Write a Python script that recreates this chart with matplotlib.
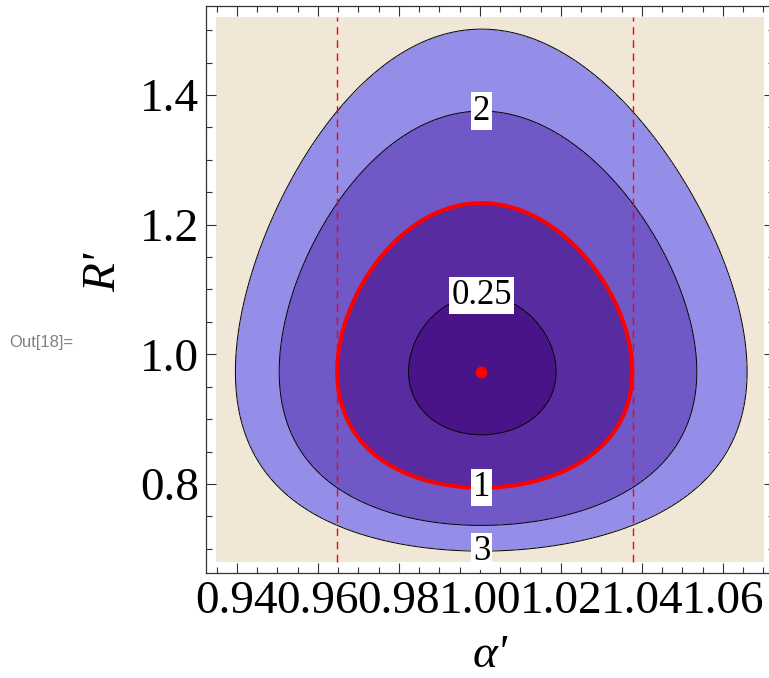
import numpy as np
import matplotlib
matplotlib.use("Agg")
import matplotlib.pyplot as plt
from matplotlib.ticker import FixedLocator, MultipleLocator

plt.rcParams['font.family'] = ['Liberation Serif', 'DejaVu Serif']

# best fit point and shape of the delta-chi^2 surface
best_alpha = 1.0004
best_r = 0.9732
sig_alpha = 0.03642        # half width of the 1-sigma contour in alpha'
skew_alpha = 0.022         # left/right asymmetry in alpha'
sig_r = [0.21313, 0.18611, -0.02294]   # sigma_R(d) = c0 + c1*d + c2*d^2

levels = [0.25, 1, 2, 3]
level_text = {0.25: '0.25', 1: '1', 2: '2', 3: '3'}
alpha_bounds = [0.9648, 1.0378]   # dashed 1-sigma lines

alpha_range = (0.935, 1.07)
r_range = (0.68, 1.52)
xticks = [0.94, 0.96, 0.98, 1.00, 1.02, 1.04, 1.06]
xtick_labels = ['0.94', '0.96', '0.98', '1.00', '1.02', '1.04', '1.06']
yticks = [0.8, 1.0, 1.2, 1.4]
ytick_labels = ['0.8', '1.0', '1.2', '1.4']

band_colors = ['#481487', '#582ca0', '#7058c6', '#948ee8', '#f0e7d6']


def delta_chi2(a, r):
    dx = a - best_alpha
    u = dx / (sig_alpha + skew_alpha * dx)
    d = r - best_r
    sy = sig_r[0] + sig_r[1] * d + sig_r[2] * d ** 2
    t = d / sy
    return u ** 2 + t ** 2


a = np.linspace(alpha_range[0], alpha_range[1], 500)
r = np.linspace(r_range[0], r_range[1], 500)
A, R = np.meshgrid(a, r)
Z = delta_chi2(A, R)

fig = plt.figure(figsize=(7.69, 6.78), dpi=100)
W, H = 769.0, 678.0
ax = fig.add_axes([205.7 / W, 1 - 572.6 / H, (774.3 - 205.7) / W, (572.6 - 6.3) / H])

pad_x = 0.02 * (alpha_range[1] - alpha_range[0])
pad_y = 0.02 * (r_range[1] - r_range[0])
ax.set_xlim(alpha_range[0] - pad_x, alpha_range[1] + pad_x)
ax.set_ylim(r_range[0] - pad_y, r_range[1] + pad_y)

ax.contourf(A, R, Z, levels=[0] + levels + [Z.max() + 1], colors=band_colors)
cs = ax.contour(A, R, Z, levels=[0.25, 2, 3], colors='black', linewidths=0.7)
ax.contour(A, R, Z, levels=[1], colors='red', linewidths=2.9)

# contour labels on white boxes, like Mathematica
cs_red = ax.contour(A, R, Z, levels=[1], colors='none')
lab = ax.clabel(cs, fmt=level_text, fontsize=25, inline=False, colors='black',
                manual=[(best_alpha, 1.09), (best_alpha, 1.37), (best_alpha, 0.70)])
lab += ax.clabel(cs_red, fmt=level_text, fontsize=25, inline=False, colors='black',
                 manual=[(best_alpha, 0.79)])
for t in lab:
    t.set_rotation(0)
    t.set_bbox(dict(facecolor='white', edgecolor='none', pad=1.5))
    t.set_zorder(5)

ax.vlines(alpha_bounds, r_range[0], r_range[1], colors='red',
          linewidths=1.0, linestyles=(0, (5.5, 4)))
ax.plot([best_alpha], [best_r], 'o', color='red', markersize=7.5, zorder=6)

ax.xaxis.set_major_locator(FixedLocator(xticks))
ax.set_xticklabels(xtick_labels)
ax.xaxis.set_minor_locator(MultipleLocator(0.005))
ax.yaxis.set_major_locator(FixedLocator(yticks))
ax.set_yticklabels(ytick_labels)
ax.yaxis.set_minor_locator(MultipleLocator(0.05))
ax.tick_params(which='both', direction='in', top=True, right=True,
               width=0.8, colors='#333333', labelcolor='black', labelsize=34)
ax.tick_params(which='major', length=7)
ax.tick_params(which='minor', length=4)
ax.tick_params(axis='x', pad=6)
ax.tick_params(axis='y', pad=5)
for s in ax.spines.values():
    s.set_color('#333333')
    s.set_linewidth(0.9)

fig.text(104 / W, 1 - 272 / H, "R'", rotation=90, fontsize=34, style='italic',
         ha='center', va='center')
fig.text(490 / W, 1 - 656 / H, "\u03b1'", fontsize=34, style='italic',
         ha='center', va='center')
fig.text(9 / W, 1 - 343 / H, 'Out[18]=', fontsize=12, color='#808080',
         family='Liberation Sans', ha='left', va='center')

fig.savefig('out.png', dpi=100)
